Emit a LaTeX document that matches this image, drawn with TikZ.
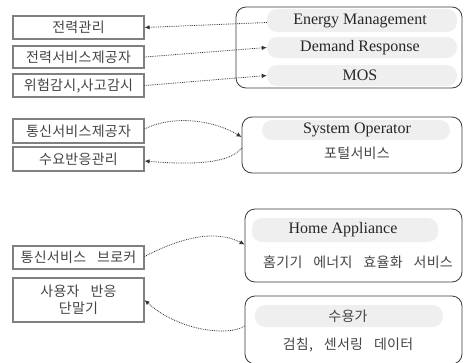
\documentclass[tikz,border=0pt]{standalone}
\usepackage{fontspec}
\setmainfont{Liberation Serif}
\newfontfamily\kr[WordSpace=3.2,LetterSpace=2]{Noto Sans CJK KR}
\usetikzlibrary{arrows.meta}
\definecolor{boxgray}{HTML}{808080}
\definecolor{txtgray}{HTML}{444444}
\definecolor{barfill}{HTML}{EFEFEF}
\definecolor{edgedark}{HTML}{3A3A3A}
\definecolor{linedark}{HTML}{333333}
\tikzset{
  lbox/.style={draw=boxgray, line width=1.1pt, minimum width=131pt, inner sep=1pt,
    font=\kr\fontsize{14}{17}\selectfont, text=txtgray, align=center},
  rbox/.style={draw=edgedark, line width=0.8pt, rounded corners=10pt},
  bar/.style={fill=barfill, rounded corners=10pt, inner sep=0pt},
  entxt/.style={font=\fontsize{16}{18}\selectfont, text=black!85},
  krtxt/.style={font=\kr\fontsize{14}{17}\selectfont, text=txtgray},
  conn/.style={densely dotted, draw=linedark, line width=0.8pt, -{Latex[length=5pt,width=4.5pt]}}
}
\begin{document}
\begin{tikzpicture}[x=1pt,y=-1pt]
\useasboundingbox (0,0) rectangle (466,362);
% right boxes
\node[rbox, minimum width=226pt, minimum height=81pt] (r1) at (349,47.5) {};
\node[bar, minimum width=190pt, minimum height=23pt] (b1) at (362,20.5) {};
\node[bar, minimum width=190pt, minimum height=21pt] (b2) at (362,47.5) {};
\node[bar, minimum width=190pt, minimum height=21pt] (b3) at (362,75.5) {};
\node[entxt] (t1) at (360,20.5) {Energy Management};
\node[entxt] (t2) at (360,47.5) {Demand Response};
\node[entxt] (t3) at (360,75.5) {MOS};

\node[rbox, minimum width=220pt, minimum height=56pt] (r2) at (352,145) {};
\node[bar, minimum width=188pt, minimum height=20pt] (b4) at (356,130) {};
\node[entxt] (t4) at (357,130) {System Operator};
\node[krtxt] (t5) at (357,153) {포털서비스};

\node[rbox, minimum width=217pt, minimum height=73pt] (r3) at (353.5,245.5) {};
\node[bar, minimum width=186pt, minimum height=24pt] (b5) at (345,230) {};
\node[entxt] (t6) at (343,230) {Home Appliance};
\node[krtxt] (t7) at (358,262) {홈기기 에너지 효율화 서비스};

\node[rbox, minimum width=217pt, minimum height=68pt] (r4) at (353.5,330) {};
\node[bar, minimum width=188pt, minimum height=22pt] (b6) at (349,316) {};
\node[krtxt] (t8) at (348,316) {수용가};
\node[krtxt] (t9) at (348,345) {검침, 센서링 데이터};

% left boxes
\node[lbox, minimum height=23pt] (l1) at (78.5,27.5) {전력관리};
\node[lbox, minimum height=22pt] (l2) at (78.5,57) {전력서비스제공자};
\node[lbox, minimum height=23pt] (l3) at (78.5,85.5) {위험감시,사고감시};
\node[lbox, minimum height=24pt] (l4) at (78.5,131) {통신서비스제공자};
\node[lbox, minimum height=24pt] (l5) at (78.5,159) {수요반응관리};
\node[lbox, minimum height=23pt] (l6) at (78.5,257.5) {통신서비스 브로커};
\node[lbox, minimum height=44pt] (l7) at (78.5,300) {사용자 반응\\단말기};

% connectors
\draw[conn] ([yshift=-2pt]b1.west) -- (l1.east);
\draw[conn] (l2.east) -- (b2.west);
\draw[conn] (l3.east) -- (b3.west);
\draw[conn] ([yshift=2pt]l4.east) .. controls (175,114) and (215,121) .. ([yshift=8pt]r2.west);
\draw[conn] ([yshift=-3pt]r2.west) .. controls (228,166) and (180,164) .. ([yshift=-2pt]l5.east);
\draw[conn] ([yshift=1pt]l6.east) .. controls (180,238) and (215,229) .. ([yshift=1pt]r3.west);
\draw[conn] ([yshift=4pt]r4.west) .. controls (230,336) and (180,332) .. (l7.east);
\end{tikzpicture}
\end{document}
